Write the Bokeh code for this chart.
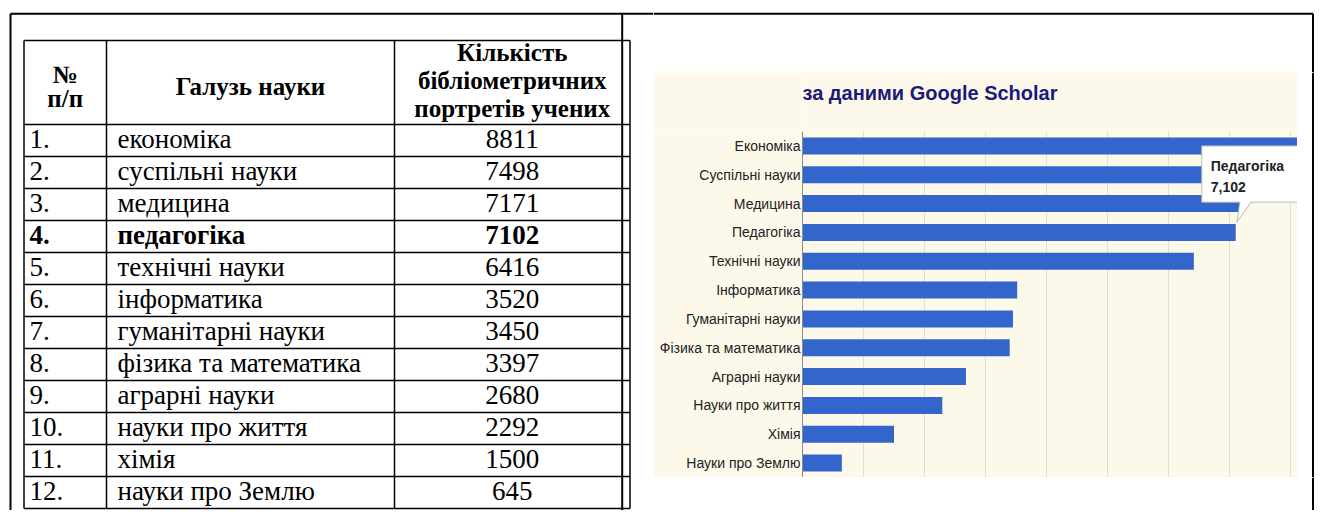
from bokeh.plotting import figure
from bokeh.models import Range1d, FactorRange, Grid, SingleIntervalTicker
from bokeh.layouts import row, column
from bokeh.core.properties import value
from bokeh.embed import file_html
from bokeh.resources import INLINE

# ---------------- data ----------------
row_numbers = ["1.", "2.", "3.", "4.", "5.", "6.", "7.", "8.", "9.", "10.", "11.", "12."]
table_fields = ["економіка", "суспільні науки", "медицина", "педагогіка", "технічні науки",
                "інформатика", "гуманітарні науки", "фізика та математика", "аграрні науки",
                "науки про життя", "хімія", "науки про Землю"]
chart_fields = ["Економіка", "Суспільні науки", "Медицина", "Педагогіка", "Технічні науки",
                "Інформатика", "Гуманітарні науки", "Фізика та математика", "Аграрні науки",
                "Науки про життя", "Хімія", "Науки про Землю"]
portraits = [8811, 7498, 7171, 7102, 6416, 3520, 3450, 3397, 2680, 2292, 1500, 645]
highlight_index = 3
header_col1 = ["№", "п/п"]
header_col2 = ["Галузь науки"]
header_col3 = ["Кількість", "бібліометричних", "портретів учених"]
chart_title = "за даними Google Scholar"

# ---------------- styles / layout ----------------
SERIF = "Liberation Serif"
SANS = "Liberation Sans"
CREAM = "#fdf9ea"
BAR = "#3366cc"

W, H = 1314, 510
LEFT_W = 653
RIGHT_W = W - LEFT_W
TOP_H = 72
CHART_W = 644
TITLE_H = 59
PLOT_H = 346
CHART_H = TITLE_H + PLOT_H
BOTTOM_H = H - TOP_H - CHART_H
STRIP_W = W - LEFT_W - CHART_W
LABEL_BORDER = 149


def blank(width, height, x0, x1, y0, y1, bg="white"):
    p = figure(width=width, height=height, x_range=Range1d(x0, x1), y_range=Range1d(y1, y0),
               toolbar_location=None, output_backend="svg", min_border=0,
               x_axis_location=None, y_axis_location=None)
    p.grid.visible = False
    p.outline_line_color = None
    p.background_fill_color = bg
    p.border_fill_color = bg
    return p


# ---------------- left: table ----------------
left = blank(LEFT_W, H, 0, LEFT_W, 0, H)
OUTER_Y = 13.3
OUTER_L = 10.0
DIVIDER = 621.7
left.segment(x0=[OUTER_L, OUTER_L, DIVIDER], y0=[OUTER_Y, OUTER_Y, OUTER_Y],
             x1=[LEFT_W, OUTER_L, DIVIDER], y1=[OUTER_Y, H, H],
             line_color="black", line_width=2)

T_LEFT, C1, C2, T_RIGHT = 23.5, 106.0, 394.0, 629.5
T_TOP, HEAD_BOT, ROW_H = 40.0, 124.0, 32.0
n = len(portraits)
T_BOT = HEAD_BOT + ROW_H * n
hy = [T_TOP, HEAD_BOT] + [HEAD_BOT + ROW_H * (k + 1) for k in range(n)]
left.segment(x0=[T_LEFT] * len(hy), y0=hy, x1=[T_RIGHT] * len(hy), y1=hy,
             line_color="black", line_width=1.5)
left.segment(x0=[T_LEFT, C1, C2, T_RIGHT], y0=[T_TOP] * 4,
             x1=[T_LEFT, C1, C2, T_RIGHT], y1=[T_BOT] * 4,
             line_color="black", line_width=1.5)

# header
c1x = (T_LEFT + C1) / 2
c2x = (C1 + C2) / 2
c3x = (C2 + T_RIGHT) / 2
hdr = dict(text_font=value(SERIF), text_font_style="bold", text_font_size="25px",
           text_color="black", text_align="center", text_baseline="middle")
left.text(x=[c1x, c1x], y=[74, 98], text=header_col1, **hdr)
left.text(x=[c2x], y=[86], text=header_col2, **hdr)
left.text(x=[c3x] * 3, y=[52, 80, 108], text=header_col3, **hdr)

# rows
mid = [HEAD_BOT + ROW_H * k + 14.5 for k in range(n)]
common = dict(text_font=value(SERIF), text_font_size="27px", text_color="black",
              text_baseline="middle")
for k in range(n):
    st = "bold" if k == highlight_index else "normal"
    left.text(x=[29.0], y=[mid[k]], text=[row_numbers[k]], text_font_style=st,
              text_align="left", **common)
    left.text(x=[117.0], y=[mid[k]], text=[table_fields[k]], text_font_style=st,
              text_align="left", **common)
    left.text(x=[c3x], y=[mid[k]], text=[str(portraits[k])], text_font_style=st,
              text_align="center", **common)

# ---------------- right: frame strips ----------------
RIGHT_BORDER = 1312.5
top_strip = blank(RIGHT_W, TOP_H, LEFT_W, W, 0, TOP_H)
top_strip.segment(x0=[LEFT_W, RIGHT_BORDER], y0=[OUTER_Y, OUTER_Y],
                  x1=[RIGHT_BORDER, RIGHT_BORDER], y1=[OUTER_Y, TOP_H],
                  line_color="black", line_width=2)

right_strip = blank(STRIP_W, CHART_H, LEFT_W + CHART_W, W, TOP_H, TOP_H + CHART_H)
right_strip.segment(x0=[RIGHT_BORDER], y0=[TOP_H], x1=[RIGHT_BORDER], y1=[TOP_H + CHART_H],
                    line_color="black", line_width=2)

bottom_strip = blank(RIGHT_W, BOTTOM_H, LEFT_W, W, TOP_H + CHART_H, H)
bottom_strip.segment(x0=[RIGHT_BORDER], y0=[TOP_H + CHART_H], x1=[RIGHT_BORDER], y1=[H],
                     line_color="black", line_width=2)

# ---------------- chart ----------------
x_range = Range1d(0, 8115)
cats_bottom_up = list(reversed(chart_fields))
chart = figure(width=CHART_W, height=PLOT_H,
               x_range=x_range,
               y_range=FactorRange(factors=cats_bottom_up, range_padding=0, factor_padding=0),
               toolbar_location=None, output_backend="svg",
               x_axis_location=None, y_axis_location="left",
               min_border_left=LABEL_BORDER, min_border_top=0, min_border_right=0,
               min_border_bottom=0)
chart.background_fill_color = CREAM
chart.border_fill_color = CREAM
chart.outline_line_color = None
chart.ygrid.visible = False
chart.add_layout(Grid(dimension=0, ticker=SingleIntervalTicker(interval=1000),
                      grid_line_color="#e1ded2", grid_line_width=1))

chart.hbar(y=chart_fields, right=portraits, left=0, height=0.59, fill_color=BAR, line_color=None)

ax = chart.yaxis[0]
ax.axis_line_color = "#8a8a8a"
ax.axis_line_width = 1
ax.major_tick_line_color = None
ax.minor_tick_line_color = None
ax.major_tick_out = 0
ax.major_tick_in = 0
ax.major_label_standoff = 2
ax.major_label_text_font = SANS
ax.major_label_text_font_size = "14px"
ax.major_label_text_color = "#222222"

# tooltip callout for the highlighted bar
hv = portraits[highlight_index]
tip_x = hv + 20
tip_y = 8.85
bx0, bx1 = 6546, 8400
by_top, by_bot = 11.5, 9.55
chart.patch(x=[bx0, bx1, bx1, 7350, tip_x, 7170, bx0],
            y=[by_top, by_top, by_bot, by_bot, tip_y, by_bot, by_bot],
            fill_color="white", line_color="#b8b8b8", line_width=1)
chart.text(x=[6693, 6693], y=[10.82, 10.07],
           text=[chart_fields[highlight_index], f"{hv:,}"],
           text_font=value(SANS), text_font_style="bold", text_font_size="14px",
           text_color="#222222", text_baseline="middle", text_align="left")

# ---------------- chart title (shares the chart's x scale) ----------------
title_fig = figure(width=CHART_W, height=TITLE_H, x_range=x_range,
                   y_range=Range1d(TOP_H + TITLE_H, TOP_H),
                   toolbar_location=None, output_backend="svg",
                   x_axis_location=None, y_axis_location=None,
                   min_border_left=LABEL_BORDER, min_border_top=0, min_border_right=0,
                   min_border_bottom=0)
title_fig.grid.visible = False
title_fig.outline_line_color = None
title_fig.background_fill_color = CREAM
title_fig.border_fill_color = CREAM
title_fig.text(x=[0], y=[92.0], text=[chart_title], text_font=value(SANS),
               text_font_style="bold", text_font_size="20px", text_color="#1a1a7c",
               text_align="left", text_baseline="middle")

layout = row(left,
             column(top_strip,
                    row(column(title_fig, chart), right_strip),
                    bottom_strip))

open("out.html", "w").write(file_html(layout, INLINE))
